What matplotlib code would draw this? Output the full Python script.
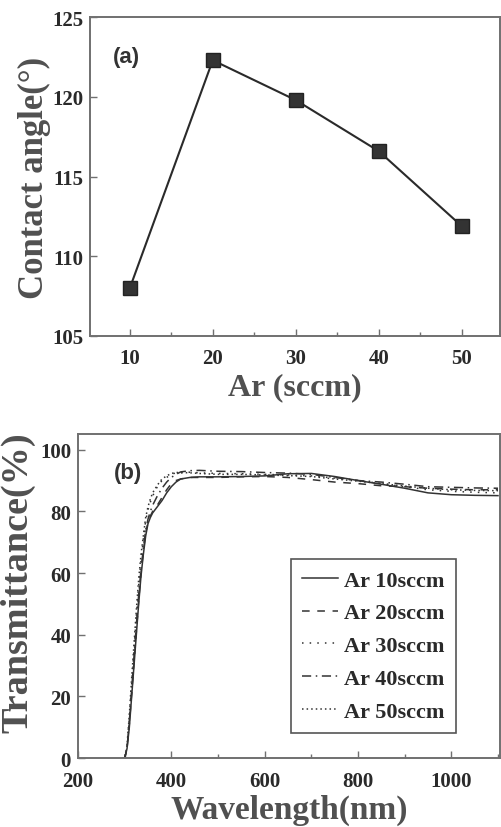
import matplotlib.pyplot as plt
import numpy as np

# panel (a): contact angle vs Ar flow
ar_flow = [10, 20, 30, 40, 50]
contact_angle = [108.0, 122.3, 119.8, 116.6, 111.9]

# panel (b): transmittance spectra
wavelength = [295, 300, 305, 310, 315, 320, 325, 330, 335, 340, 345, 350, 355, 360, 370,
              380, 390, 400, 410, 420, 440, 460, 500, 550, 600, 650, 700, 750, 800,
              850, 900, 950, 1000, 1050, 1100]
t_10 = [0, 0, 3, 10, 20, 30, 40, 50, 59, 66, 72, 76, 78, 79.5, 81.5,
        83.5, 86, 88, 89.5, 90.5, 91, 91.2, 91.2, 91.3, 91.5, 92.2, 92.3, 91.3, 90,
        88.8, 87.5, 86, 85.4, 85.2, 85.1]
t_20 = [0, 0, 3, 11, 21, 31, 41, 51, 60, 67, 73, 76.5, 78.5, 80, 82,
        84.5, 87, 89, 90, 90.5, 91, 91, 91, 91.2, 91.3, 91, 90.3, 89.5, 89,
        88.3, 88, 87.5, 87.2, 87, 87]
t_30 = [0, 0, 4, 13, 24, 35, 46, 56, 64, 71, 77, 80.5, 83, 85, 88,
        90, 91, 92, 92.5, 92.5, 92.7, 92.5, 92.3, 92.2, 92, 91.8, 91.5, 90.8, 90,
        89, 88, 87, 86.5, 86.2, 86]
t_40 = [0, 0, 3, 12, 22, 33, 43, 53, 61, 68, 74, 77.5, 80, 82, 85,
        87.5, 89.5, 91, 92, 92.8, 93.2, 93.3, 93, 92.9, 92.6, 92.4, 92, 91, 90,
        89.5, 88.8, 88, 87.8, 87.6, 87.5]
t_50 = [0, 0, 4, 14, 26, 37, 48, 58, 66, 72, 78, 81.5, 84, 86, 88.5,
        90.5, 91.5, 92.3, 92.6, 92.6, 92.5, 92.3, 92, 92, 91.8, 91.6, 91.3, 90.5, 89.8,
        89, 88.2, 87.5, 87, 86.8, 86.7]
series_names = ["Ar 10sccm", "Ar 20sccm", "Ar 30sccm", "Ar 40sccm", "Ar 50sccm"]
series_styles = ["-", (0, (5, 5)), (0, (1, 4)), (0, (6, 3, 1, 3)), (0, (1, 2))]

serif = "Liberation Serif"
sans = "Liberation Sans"
label_col = "#505050"
tick_col = "#2a2a2a"
spine_col = "#707070"

fig = plt.figure(figsize=(5.01, 8.28), dpi=100)


def style_axes(ax):
    for s in ax.spines.values():
        s.set_color(spine_col)
        s.set_linewidth(1.4)
    ax.tick_params(which="both", direction="in", color=spine_col, width=1.0)
    ax.tick_params(which="major", length=5, labelsize=15, labelcolor=tick_col)
    ax.tick_params(axis="x", which="major", pad=9)
    ax.tick_params(axis="y", which="major", pad=5)
    ax.tick_params(which="minor", length=3)
    for lab in ax.get_xticklabels() + ax.get_yticklabels():
        lab.set_fontfamily(serif)
        lab.set_fontweight("bold")


# top panel
ax1 = fig.add_axes([0.1796, 0.593, 0.818, 0.385])
ax1.plot(ar_flow, contact_angle, color="#2a2a2a", lw=1.5, marker="s", ms=10,
         mfc="#333333", mec="#222222")
ax1.set_xlim(5.2, 54.6)
ax1.set_ylim(105, 125)
ax1.set_xticks([10, 20, 30, 40, 50])
ax1.set_xticks([15, 25, 35, 45], minor=True)
ax1.set_yticks([105, 110, 115, 120, 125])
style_axes(ax1)
ax1.set_xlabel("Ar (sccm)", fontfamily=serif, fontweight="bold", fontsize=23,
               color=label_col, labelpad=3)
ax1.set_ylabel("Contact angle(°)", fontfamily=serif, fontweight="bold", fontsize=25,
               color=label_col, labelpad=1)
ax1.text(0.055, 0.86, "(a)", transform=ax1.transAxes, fontfamily=sans,
         fontweight="bold", fontsize=16, color="#333333")

# bottom panel
ax2 = fig.add_axes([0.1557, 0.0833, 0.842, 0.391])
series = [t_10, t_20, t_30, t_40, t_50]
for vals, name, ls in zip(series, series_names, series_styles):
    ax2.plot(wavelength, vals, color="#333333", lw=1.1, ls=ls, label=name)
ax2.set_xlim(200, 1104)
ax2.set_ylim(0, 105)
ax2.set_xticks([200, 400, 600, 800, 1000])
ax2.set_xticks([300, 500, 700, 900, 1100], minor=True)
ax2.set_yticks([0, 20, 40, 60, 80, 100])
style_axes(ax2)
ax2.set_xlabel("Wavelength(nm)", fontfamily=serif, fontweight="bold", fontsize=24,
               color=label_col, labelpad=2)
ax2.set_ylabel("Transmittance(%)", fontfamily=serif, fontweight="bold", fontsize=27.5,
               color=label_col)
ax2.yaxis.set_label_coords(-0.1, 0.545)
ax2.text(0.085, 0.865, "(b)", transform=ax2.transAxes, fontfamily=sans,
         fontweight="bold", fontsize=16, color="#333333")
leg = ax2.legend(loc="lower left", bbox_to_anchor=(0.505, 0.078, 0.39, 0.51),
                 mode="expand", fancybox=False, framealpha=1, handlelength=1.6,
                 handletextpad=0.3, borderpad=0.5, borderaxespad=0, labelspacing=0.55,
                 prop={"family": serif, "weight": "bold", "size": 16})
leg.get_frame().set_edgecolor("#555555")
leg.get_frame().set_linewidth(1.2)
for t in leg.get_texts():
    t.set_color(tick_col)

fig.savefig("out.png", dpi=100)
